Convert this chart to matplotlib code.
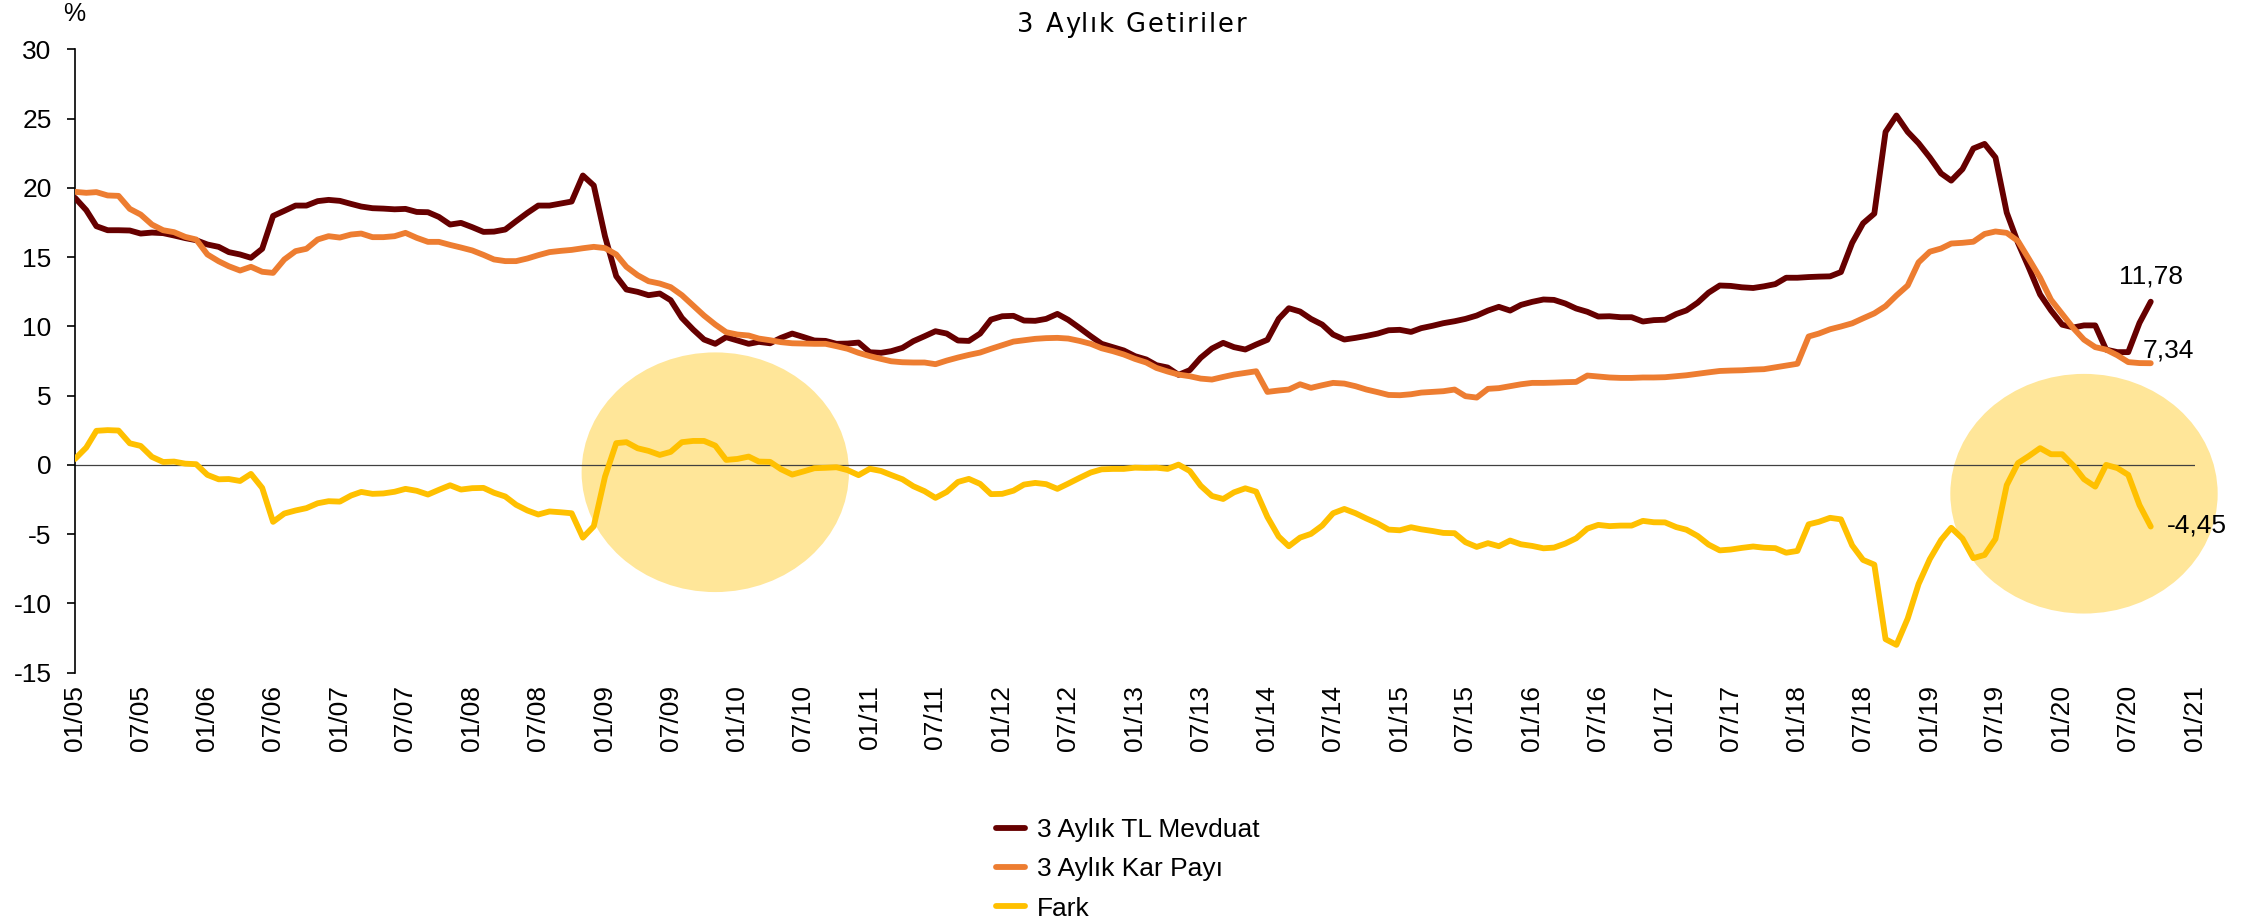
import numpy as np
import pandas as pd
import matplotlib
matplotlib.use("Agg")
import matplotlib.pyplot as plt
import matplotlib.dates as mdates
from matplotlib.patches import Ellipse

plt.rcParams['font.family'] = ['Liberation Sans', 'DejaVu Sans']

# ---------------- data ----------------
start_month = '2005-01-01'
series_names = ['3 Aylık TL Mevduat', '3 Aylık Kar Payı', 'Fark']
title_text = '3 Aylık Getiriler'
last_labels = ['11,78', '7,34', '-4,45']
y_ticks = [-15, -10, -5, 0, 5, 10, 15, 20, 25, 30]

mevduat = [
    19.28, 18.39, 17.23, 16.94, 16.94, 16.92, 16.70, 16.77, 16.73, 16.56,
    16.37, 16.22, 15.91, 15.74, 15.36, 15.19, 14.95, 15.60, 17.97, 18.34,
    18.72, 18.72, 19.04, 19.13, 19.06, 18.84, 18.65, 18.53, 18.50, 18.45,
    18.48, 18.26, 18.24, 17.90, 17.35, 17.47, 17.16, 16.82, 16.84, 16.99,
    17.59, 18.19, 18.72, 18.72, 18.87, 19.01, 20.89, 20.17, 16.50, 13.62,
    12.66, 12.49, 12.25, 12.37, 11.89, 10.61, 9.77, 9.05, 8.74, 9.22,
    8.98, 8.74, 8.88, 8.78, 9.17, 9.48, 9.24, 8.98, 8.95, 8.74,
    8.76, 8.83, 8.13, 8.09, 8.21, 8.45, 8.93, 9.29, 9.65, 9.48,
    8.98, 8.95, 9.48, 10.49, 10.73, 10.76, 10.42, 10.40, 10.54, 10.90,
    10.47, 9.89, 9.29, 8.74, 8.50, 8.26, 7.85, 7.61, 7.20, 7.03,
    6.50, 6.84, 7.73, 8.40, 8.81, 8.50, 8.33, 8.69, 9.03, 10.54,
    11.31, 11.07, 10.54, 10.13, 9.41, 9.05, 9.17, 9.31, 9.48, 9.72,
    9.75, 9.60, 9.87, 10.04, 10.23, 10.37, 10.54, 10.78, 11.14, 11.41,
    11.14, 11.55, 11.77, 11.94, 11.91, 11.65, 11.29, 11.05, 10.71, 10.73,
    10.66, 10.66, 10.35, 10.45, 10.48, 10.89, 11.15, 11.71, 12.43, 12.95,
    12.92, 12.82, 12.77, 12.89, 13.05, 13.51, 13.51, 13.56, 13.59, 13.61,
    13.92, 16.03, 17.44, 18.14, 24.04, 25.22, 24.04, 23.22, 22.19, 21.04,
    20.52, 21.35, 22.84, 23.17, 22.19, 18.21, 16.03, 14.23, 12.30, 11.15,
    10.12, 9.92, 10.07, 10.07, 8.32, 8.14, 8.14, 10.25, 11.78]

kar_payi = [
    19.71, 19.64, 19.69, 19.45, 19.42, 18.48, 18.07, 17.35, 16.94, 16.80,
    16.46, 16.27, 15.19, 14.70, 14.34, 14.03, 14.30, 13.94, 13.86, 14.83,
    15.43, 15.60, 16.27, 16.51, 16.41, 16.63, 16.70, 16.44, 16.44, 16.51,
    16.75, 16.39, 16.10, 16.10, 15.88, 15.69, 15.48, 15.16, 14.83, 14.71,
    14.71, 14.90, 15.14, 15.36, 15.45, 15.52, 15.64, 15.74, 15.65, 15.19,
    14.30, 13.69, 13.26, 13.09, 12.83, 12.25, 11.50, 10.78, 10.13, 9.58,
    9.41, 9.34, 9.12, 9.00, 8.86, 8.78, 8.76, 8.74, 8.74, 8.57,
    8.38, 8.09, 7.85, 7.65, 7.48, 7.41, 7.39, 7.39, 7.27, 7.53,
    7.75, 7.94, 8.11, 8.38, 8.64, 8.90, 9.00, 9.10, 9.15, 9.17,
    9.12, 8.95, 8.74, 8.42, 8.21, 7.97, 7.65, 7.39, 7.00, 6.74,
    6.52, 6.40, 6.23, 6.16, 6.35, 6.52, 6.64, 6.76, 5.27, 5.37,
    5.44, 5.82, 5.56, 5.75, 5.92, 5.87, 5.68, 5.44, 5.25, 5.05,
    5.03, 5.10, 5.22, 5.27, 5.32, 5.44, 4.96, 4.86, 5.49, 5.54,
    5.68, 5.82, 5.92, 5.92, 5.94, 5.97, 5.99, 6.45, 6.38, 6.31,
    6.28, 6.28, 6.31, 6.31, 6.33, 6.40, 6.47, 6.58, 6.68, 6.78,
    6.81, 6.83, 6.88, 6.91, 7.04, 7.17, 7.30, 9.27, 9.48, 9.79,
    9.99, 10.22, 10.58, 10.94, 11.46, 12.23, 12.95, 14.62, 15.39, 15.62,
    15.98, 16.03, 16.11, 16.67, 16.85, 16.75, 16.16, 14.87, 13.51, 11.92,
    10.89, 9.86, 9.04, 8.50, 8.32, 7.91, 7.42, 7.35, 7.34]

fark = [
    0.43, 1.25, 2.46, 2.51, 2.48, 1.56, 1.37, 0.58, 0.21, 0.24,
    0.09, 0.05, -0.72, -1.04, -1.02, -1.16, -0.65, -1.66, -4.11, -3.51,
    -3.29, -3.12, -2.77, -2.62, -2.65, -2.21, -1.95, -2.09, -2.06, -1.94,
    -1.73, -1.87, -2.14, -1.80, -1.47, -1.78, -1.68, -1.66, -2.01, -2.28,
    -2.88, -3.29, -3.58, -3.36, -3.42, -3.49, -5.25, -4.43, -0.85, 1.57,
    1.64, 1.20, 1.01, 0.72, 0.94, 1.64, 1.73, 1.73, 1.39, 0.36,
    0.43, 0.60, 0.24, 0.22, -0.31, -0.70, -0.48, -0.24, -0.21, -0.17,
    -0.38, -0.74, -0.28, -0.44, -0.73, -1.04, -1.54, -1.90, -2.38, -1.95,
    -1.23, -1.01, -1.37, -2.11, -2.09, -1.86, -1.42, -1.30, -1.39, -1.73,
    -1.35, -0.94, -0.55, -0.32, -0.29, -0.29, -0.20, -0.22, -0.20, -0.29,
    0.02, -0.44, -1.50, -2.24, -2.46, -1.98, -1.69, -1.93, -3.76, -5.17,
    -5.87, -5.25, -4.98, -4.38, -3.49, -3.18, -3.49, -3.87, -4.23, -4.67,
    -4.72, -4.50, -4.65, -4.77, -4.91, -4.93, -5.58, -5.92, -5.65, -5.87,
    -5.46, -5.73, -5.85, -6.02, -5.97, -5.68, -5.30, -4.60, -4.33, -4.42,
    -4.38, -4.38, -4.04, -4.14, -4.15, -4.49, -4.68, -5.13, -5.75, -6.17,
    -6.11, -5.99, -5.89, -5.98, -6.01, -6.34, -6.21, -4.29, -4.11, -3.82,
    -3.93, -5.81, -6.86, -7.20, -12.58, -12.99, -11.09, -8.60, -6.80, -5.42,
    -4.54, -5.32, -6.73, -6.50, -5.34, -1.46, 0.13, 0.64, 1.21, 0.77,
    0.77, -0.06, -1.03, -1.57, 0.00, -0.23, -0.72, -2.90, -4.45]

# ---------------- figure ----------------
W, H = 2260, 922
fig = plt.figure(figsize=(W / 100, H / 100), dpi=100)
ax_left, ax_right, ax_top, ax_bottom = 75, 2195, 49.3, 672.7
ax = fig.add_axes([ax_left / W, 1 - ax_bottom / H,
                   (ax_right - ax_left) / W, (ax_bottom - ax_top) / H])

dates = pd.date_range(start_month, periods=len(mevduat), freq='MS')
x_end = pd.Timestamp('2021-01-01')
xticks = pd.date_range(start_month, x_end, freq='6MS')
xticklabels = [d.strftime('%m/%y') for d in xticks]

colors = ['#660000', '#ED7D31', '#FFC000']
lw = 4.2

# highlight ellipses
ell_color = '#FFE699'
for cx, cy in [(pd.Timestamp('2009-11-01'), -0.53), (pd.Timestamp('2020-03-01'), -2.08)]:
    e = Ellipse((mdates.date2num(cx), cy), width=737, height=17.3,
                facecolor=ell_color, edgecolor='none', zorder=1, clip_on=False)
    ax.add_patch(e)

ax.axhline(0, color='#404040', lw=0.9, zorder=2)

handles = []
for vals, c, name in zip([mevduat, kar_payi, fark], colors, series_names):
    h, = ax.plot(dates, vals, color=c, lw=lw, zorder=3,
                 solid_joinstyle='round', solid_capstyle='round', label=name)
    handles.append(h)

ax.set_xlim(dates[0], x_end)
ax.set_ylim(-15, 30)
ax.set_yticks(y_ticks)
ax.set_yticklabels([str(t) for t in y_ticks])
ax.set_xticks(xticks)
ax.set_xticklabels(xticklabels, rotation=90)

for s in ['top', 'right', 'bottom']:
    ax.spines[s].set_visible(False)
ax.spines['left'].set_linewidth(1.2)
ax.tick_params(axis='y', length=5.8, width=1.2, pad=11, labelsize=19)
ax.tick_params(axis='x', length=0, pad=9, labelsize=19)

# end labels
offsets = [(0, 25), (18, 13), (46, 1)]
for vals, lab, off in zip([mevduat, kar_payi, fark], last_labels, offsets):
    ax.annotate(lab, xy=(dates[-1], vals[-1]), xytext=off,
                textcoords='offset pixels', ha='center', va='center',
                fontsize=19, color='black')

# % label
fig.text(74 / W, 1 - 14 / H, '%', ha='center', va='center', fontsize=18)

# letter-spaced title
renderer = fig.canvas.get_renderer()
tkw = dict(fontsize=18.5, family=['DejaVu Sans'])


def text_width(s):
    t = fig.text(0, 0, s, **tkw)
    w = t.get_window_extent(renderer).width
    t.remove()
    return w


bar_w = text_width('||')
adv = [text_width('|' + title_text[:i] + '|') - bar_w for i in range(len(title_text) + 1)]
natural = adv[-1]
target_w = 229
spacing = max(0.0, (target_w - natural) / (len(title_text) - 1))
total_w = natural + spacing * (len(title_text) - 1)
x0 = 1131.5 - total_w / 2
for i, ch in enumerate(title_text):
    if ch == ' ':
        continue
    fig.text((x0 + adv[i] + i * spacing) / W, 1 - 32 / H, ch,
             ha='left', va='baseline', **tkw)

# legend
fig.legend(handles, series_names, loc='upper left',
           bbox_to_anchor=(996 / W, 1 - 818 / H), frameon=False,
           fontsize=19, handlelength=1.1, handletextpad=0.45,
           labelspacing=0.58, borderpad=0, borderaxespad=0)

fig.savefig('out.png', dpi=100)
